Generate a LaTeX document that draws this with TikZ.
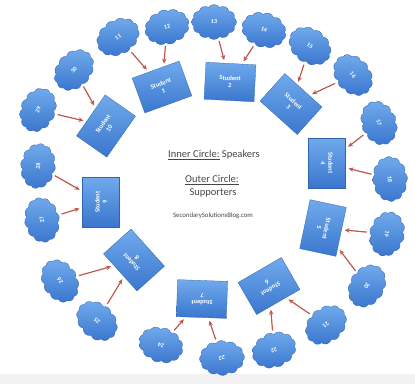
\documentclass[tikz,border=0pt]{standalone}
\usepackage{fontspec}
\setmainfont{Carlito}
\usetikzlibrary{shapes.symbols,arrows.meta,backgrounds}
\definecolor{boxtop}{RGB}{112,170,236}
\definecolor{boxbot}{RGB}{58,118,206}
\definecolor{arrowred}{RGB}{192,88,80}
\definecolor{txtgray}{RGB}{70,70,70}
\begin{document}
\begin{tikzpicture}[x=1pt,y=1pt,
 student/.style={rectangle, minimum width=50pt, minimum height=37pt, inner sep=1pt,
   top color=boxtop, bottom color=boxbot, draw=boxbot!85!black, line width=0.3pt,
   text=white, font=\fontsize{6.5}{7.5}\selectfont\bfseries, align=center},
 supporter/.style={cloud, cloud puffs=12, cloud puff arc=110, aspect=1.3,
   minimum width=45pt, minimum height=35pt, inner sep=0pt,
   top color=boxtop, bottom color=boxbot, draw=boxbot!85!black, line width=0.3pt,
   text=white, font=\fontsize{6}{7}\selectfont\bfseries},
 nubbox/.style={rectangle, minimum size=6pt, inner sep=0pt, fill=boxbot,
   draw=boxbot!85!black, line width=0.3pt},
 link/.style={-{Stealth[length=5pt,width=4.5pt]}, draw=arrowred, line width=1.2pt,
   shorten <=3pt, shorten >=3pt},
 centertext/.style={text=txtgray, inner sep=1pt}
]
\useasboundingbox (0,-384) rectangle (415,0);
\fill[white] (0,-384) rectangle (415,0);
\fill[gray!10] (0,-384) rectangle (415,-374);

% inner circle: speakers
\foreach \n/\x/\y/\r in {1/162/87/20, 2/230/82/-3, 3/291/104/-42, 4/327/163/-90,
  5/323/228/-102, 6/269/286/-150, 7/202/299/178, 8/134/260/132, 9/101/202/90,
  10/106/126/55}{
  \node[student, rotate=\r] (S\n) at (\x,-\y) {Student\\\n};
  \begin{pgfonlayer}{background}
    \node[nubbox, rotate=\r] (SN\n) at (S\n.240) {};
  \end{pgfonlayer}
}

% outer circle: supporters
\foreach \n/\x/\y/\r in {11/118/37/32, 12/167/27/16, 13/214/22/0, 14/264/30/-17,
  15/310/46/-34, 16/353/75/-50, 17/379/123/-68, 18/390/179/-86, 19/387/234/-104,
  20/367/286/-122, 21/326/325/-140, 22/274/350/-159, 23/222/358/-177,
  24/161/345/161, 25/97/321/138, 26/60/281/121, 27/42/220/100, 28/38/166/82,
  29/38/110/66, 30/74/70/49}{
  \node[supporter, rotate=\r] (C\n) at (\x,-\y) {\n};
  \begin{pgfonlayer}{background}
    \node[nubbox, rotate=\r] (CN\n) at (C\n.240) {};
  \end{pgfonlayer}
}

% connectors
\foreach \c/\s in {11/1, 12/1, 13/2, 14/2, 15/3, 16/3, 17/4, 18/4, 19/5, 20/5,
  21/6, 22/6, 23/7, 24/7, 25/8, 26/8, 27/9, 28/9, 29/10, 30/10}{
  \draw[link] (C\c) -- (S\s);
}

% centre text
\node[centertext, font=\fontsize{10.5}{12}\selectfont] (inner) at (214,-155)
  {\underline{Inner Circle:} Speakers};
\node[centertext, font=\fontsize{10.5}{12}\selectfont] (outer) at (212,-180)
  {\underline{Outer Circle:}};
\node[centertext, font=\fontsize{10.5}{12}\selectfont] (supp) at (213,-193)
  {Supporters};
\node[centertext, font=\fontsize{6.8}{8}\selectfont] (blog) at (213,-216)
  {SecondarySolutionsBlog.com};
\end{tikzpicture}
\end{document}
